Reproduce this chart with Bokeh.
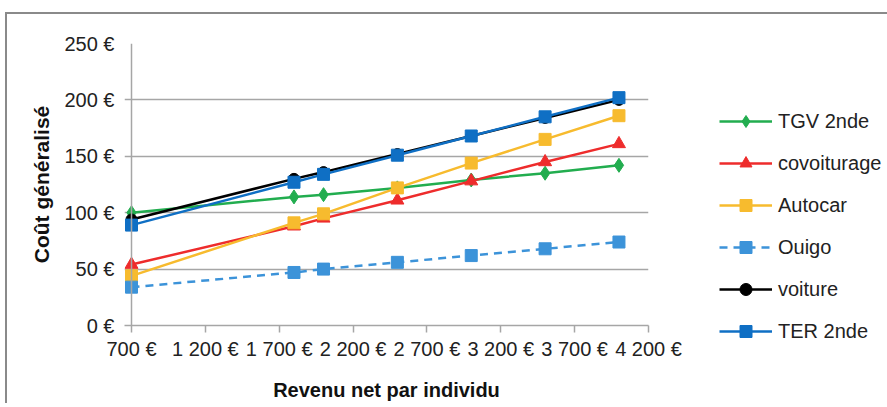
from bokeh.plotting import figure
from bokeh.models import (FixedTicker, Legend, LegendItem, Span, Range1d)
from bokeh.embed import file_html
from bokeh.resources import INLINE

# ---- data ----
revenu = [700, 1800, 2000, 2500, 3000, 3500, 4000]
tgv = [100, 114, 116, 122, 129, 135, 142]
covoiturage = [54, 88, 95, 111, 128, 145, 161]
autocar = [44, 91, 99, 122, 144, 165, 186]
ouigo = [34, 47, 50, 56, 62, 68, 74]
voiture = [94, 130, 136, 152, 168, 184, 200]
ter = [89, 127, 134, 151, 168, 185, 202]

x_ticks = [700, 1200, 1700, 2200, 2700, 3200, 3700, 4200]
x_tick_labels = ["700 €", "1 200 €", "1 700 €", "2 200 €", "2 700 €", "3 200 €", "3 700 €", "4 200 €"]
y_ticks = [0, 50, 100, 150, 200, 250]
y_tick_labels = ["0 €", "50 €", "100 €", "150 €", "200 €", "250 €"]

FONT = "Liberation Sans"
GRID = "#a6a6a6"

# frame geometry
frame_w = 524
frame_h = 282
pad_px = 7  # frame extends this many px left of the 700 axis
scale = (frame_w - pad_px) / (x_ticks[-1] - x_ticks[0])
x_start = x_ticks[0] - pad_px / scale

mb_left, mb_top, mb_bottom, mb_right = 117, 29, 78, 225
W = mb_left + frame_w + mb_right
H = mb_top + frame_h + mb_bottom

p = figure(width=W, height=H, output_backend="svg", toolbar_location=None,
           x_range=Range1d(x_start, x_ticks[-1]), y_range=Range1d(y_ticks[0], y_ticks[-1]),
           frame_width=frame_w, frame_height=frame_h,
           min_border_left=mb_left, min_border_top=mb_top,
           min_border_bottom=mb_bottom, min_border_right=mb_right)
p.outline_line_color = None
p.background_fill_color = "white"
p.border_fill_color = "white"
p.styles = {"border-top": "2px solid #8a8a8a", "border-left": "2px solid #8a8a8a",
            "margin-top": "12px", "margin-left": "5px"}

# axes
p.xaxis.ticker = FixedTicker(ticks=x_ticks)
p.xaxis.major_label_overrides = dict(zip(x_ticks, x_tick_labels))
p.yaxis.ticker = FixedTicker(ticks=y_ticks)
p.yaxis.major_label_overrides = dict(zip(y_ticks, y_tick_labels))
for ax in (p.xaxis, p.yaxis):
    ax.major_label_text_font = FONT
    ax.major_label_text_font_size = "20px"
    ax.major_label_text_color = "#222222"
    ax.axis_label_text_font = FONT
    ax.axis_label_text_font_style = "bold"
    ax.axis_label_text_color = "#111111"
    ax.minor_tick_line_color = None
    ax.major_tick_line_color = GRID
    ax.major_tick_line_width = 1.5
    ax.axis_line_color = GRID
    ax.axis_line_width = 1.5

p.xaxis.major_tick_out = 7
p.xaxis.major_tick_in = 0
p.xaxis.major_label_standoff = 5
p.xaxis.axis_label = "Revenu net par individu"
p.xaxis.axis_label_text_font_size = "20px"
p.xaxis.axis_label_standoff = 16

p.yaxis.axis_line_color = None
p.yaxis.major_tick_out = 0
p.yaxis.major_tick_in = 0
p.yaxis.major_label_standoff = 10
p.yaxis.axis_label = "Coût généralisé"
p.yaxis.axis_label_text_font_size = "21px"
p.yaxis.axis_label_standoff = 8

p.xgrid.grid_line_color = None
p.ygrid.grid_line_color = GRID
p.ygrid.grid_line_width = 1.5

# vertical axis line at the first tick
p.add_layout(Span(location=x_ticks[0], dimension="height", line_color=GRID, line_width=1.5))

series = [
    ("TGV 2nde", tgv, "#22ad4f", "diamond", 14, "solid"),
    ("covoiturage", covoiturage, "#ee2c2c", "triangle", 13, "solid"),
    ("Autocar", autocar, "#f7bb2e", "square", 12, "solid"),
    ("Ouigo", ouigo, "#3c93d9", "square", 12, "8 6"),
    ("voiture", voiture, "#000000", "circle", 11, "solid"),
    ("TER 2nde", ter, "#0f6fc4", "square", 12, "solid"),
]

items = []
for name, ys, color, marker, size, dash in series:
    ln = p.line(revenu, ys, line_color=color, line_width=2.5, line_dash=dash)
    sc = p.scatter(revenu, ys, marker=marker, size=size, fill_color=color, line_color=color)
    items.append(LegendItem(label=name, renderers=[ln, sc]))

legend = Legend(items=items, location=(71, -21), orientation="vertical",
                glyph_width=53, glyph_height=30, label_height=30, spacing=12,
                label_standoff=6, padding=0, margin=0,
                label_text_font=FONT, label_text_font_size="20px", label_text_color="#222222",
                border_line_color=None, background_fill_color=None)
p.add_layout(legend, "right")

open("out.html", "w").write(file_html(p, INLINE))
